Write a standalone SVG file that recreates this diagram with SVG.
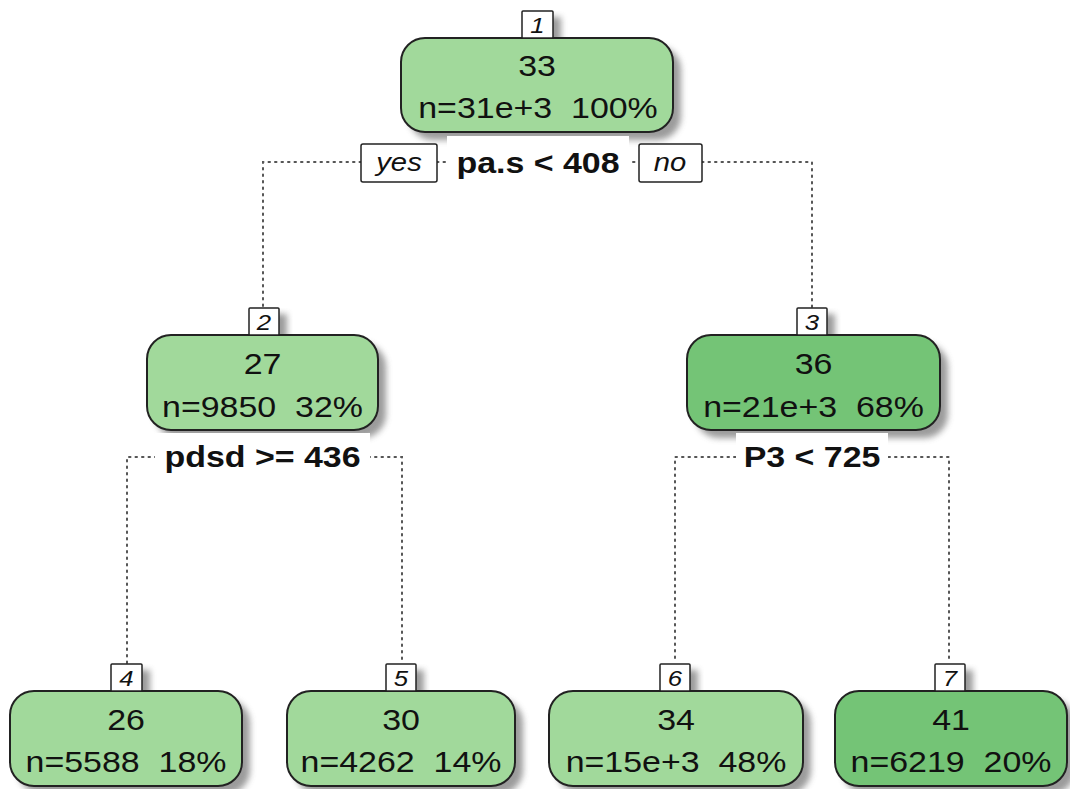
<svg xmlns="http://www.w3.org/2000/svg" width="1070" height="789" viewBox="0 0 1070 789">
<defs>
<filter id="sh" x="-20%" y="-20%" width="140%" height="140%"><feGaussianBlur stdDeviation="3"/></filter>
<style>
.box{stroke:#222;stroke-width:2}
.light{fill:#a1d99b}
.dark{fill:#74c476}
.shadow{fill:#8a8a8a;filter:url(#sh);opacity:0.85}
.num{fill:#fff;stroke:#222;stroke-width:1.5}
.t{font-family:"Liberation Sans",Arial,sans-serif;fill:#111;text-anchor:middle;white-space:pre}
.big{font-size:29px}
.lab{font-size:22px;font-style:italic}
.yn{font-size:25px;font-style:italic}
.split{font-size:29px;font-weight:bold}
.con{fill:none;stroke:#555;stroke-width:2;stroke-dasharray:1.5 5;stroke-linecap:round}
.bg{fill:#fff}
</style>
</defs>
<rect width="1070" height="789" fill="#fff"/>

<g id="shadows">
<rect class="shadow" x="409" y="46" width="272" height="94" rx="24"/>
<rect class="shadow" x="530" y="17" width="31" height="27"/>
<rect class="shadow" x="155" y="343" width="231" height="95" rx="24"/>
<rect class="shadow" x="257" y="314" width="30" height="27"/>
<rect class="shadow" x="695" y="343" width="253" height="95" rx="24"/>
<rect class="shadow" x="805" y="314" width="30" height="27"/>
<rect class="shadow" x="18" y="699" width="232" height="95" rx="24"/>
<rect class="shadow" x="119" y="670" width="31" height="27"/>
<rect class="shadow" x="295" y="699" width="228" height="95" rx="24"/>
<rect class="shadow" x="394" y="670" width="30" height="27"/>
<rect class="shadow" x="557" y="699" width="254" height="95" rx="24"/>
<rect class="shadow" x="668" y="670" width="30" height="27"/>
<rect class="shadow" x="843" y="699" width="232" height="95" rx="24"/>
<rect class="shadow" x="943" y="670" width="30" height="27"/>
</g>

<g id="connectors">
<path class="con" d="M361,162 H263 V308"/>
<path class="con" d="M702,162 H812 V308"/>
<path class="con" d="M437,162 H456 M620,162 H639"/>
<path class="con" d="M163,457 H127 V663"/>
<path class="con" d="M362,457 H402 V663"/>
<path class="con" d="M742,457 H675 V663"/>
<path class="con" d="M882,457 H949 V663"/>
</g>

<g id="split1">
<rect class="bg" x="447" y="136" width="182" height="46"/>
<text class="t split" transform="matrix(1.17 0 0 1 538 173)">pa.s &lt; 408</text>
<rect class="num" x="361" y="144" width="76" height="38" rx="2"/>
<text class="t yn" transform="matrix(1.17 0 0 1 399 171)">yes</text>
<rect class="num" x="639" y="144" width="63" height="38" rx="2"/>
<text class="t yn" transform="matrix(1.17 0 0 1 670 171)">no</text>
</g>
<g id="split2">
<rect class="bg" x="155" y="433" width="215" height="46"/>
<text class="t split" transform="matrix(1.17 0 0 1 262.5 467)">pdsd &gt;= 436</text>
</g>
<g id="split3">
<rect class="bg" x="736" y="433" width="152" height="46"/>
<text class="t split" transform="matrix(1.17 0 0 1 812 467)">P3 &lt; 725</text>
</g>

<g id="node1">
<rect class="box light" x="401" y="38" width="272" height="94" rx="24"/>
<rect class="num" x="522" y="11" width="31" height="27" rx="1"/>
<text class="t lab" transform="matrix(1.17 0 0 1 537.5 33)">1</text>
<text class="t big" transform="matrix(1.17 0 0 1 537 76)">33</text>
<text class="t big" xml:space="preserve" transform="matrix(1.17 0 0 1 538 118)">n=31e+3  100%</text>
</g>
<g id="node2">
<rect class="box light" x="147" y="335" width="231" height="95" rx="24"/>
<rect class="num" x="249" y="308" width="30" height="27" rx="1"/>
<text class="t lab" transform="matrix(1.17 0 0 1 264 330)">2</text>
<text class="t big" transform="matrix(1.17 0 0 1 262.5 374)">27</text>
<text class="t big" xml:space="preserve" transform="matrix(1.17 0 0 1 262.5 417)">n=9850  32%</text>
</g>
<g id="node3">
<rect class="box dark" x="687" y="335" width="253" height="95" rx="24"/>
<rect class="num" x="797" y="308" width="30" height="27" rx="1"/>
<text class="t lab" transform="matrix(1.17 0 0 1 812 330)">3</text>
<text class="t big" transform="matrix(1.17 0 0 1 813.5 374)">36</text>
<text class="t big" xml:space="preserve" transform="matrix(1.17 0 0 1 813.5 417)">n=21e+3  68%</text>
</g>
<g id="node4">
<rect class="box light" x="10" y="691" width="232" height="95" rx="24"/>
<rect class="num" x="111" y="664" width="31" height="27" rx="1"/>
<text class="t lab" transform="matrix(1.17 0 0 1 126.5 686)">4</text>
<text class="t big" transform="matrix(1.17 0 0 1 126 730)">26</text>
<text class="t big" xml:space="preserve" transform="matrix(1.17 0 0 1 126 772)">n=5588  18%</text>
</g>
<g id="node5">
<rect class="box light" x="287" y="691" width="228" height="95" rx="24"/>
<rect class="num" x="386" y="664" width="30" height="27" rx="1"/>
<text class="t lab" transform="matrix(1.17 0 0 1 401 686)">5</text>
<text class="t big" transform="matrix(1.17 0 0 1 401 730)">30</text>
<text class="t big" xml:space="preserve" transform="matrix(1.17 0 0 1 401 772)">n=4262  14%</text>
</g>
<g id="node6">
<rect class="box light" x="549" y="691" width="254" height="95" rx="24"/>
<rect class="num" x="660" y="664" width="30" height="27" rx="1"/>
<text class="t lab" transform="matrix(1.17 0 0 1 675 686)">6</text>
<text class="t big" transform="matrix(1.17 0 0 1 676 730)">34</text>
<text class="t big" xml:space="preserve" transform="matrix(1.17 0 0 1 676 772)">n=15e+3  48%</text>
</g>
<g id="node7">
<rect class="box dark" x="835" y="691" width="232" height="95" rx="24"/>
<rect class="num" x="935" y="664" width="30" height="27" rx="1"/>
<text class="t lab" transform="matrix(1.17 0 0 1 950 686)">7</text>
<text class="t big" transform="matrix(1.17 0 0 1 951 730)">41</text>
<text class="t big" xml:space="preserve" transform="matrix(1.17 0 0 1 951 772)">n=6219  20%</text>
</g>
</svg>
